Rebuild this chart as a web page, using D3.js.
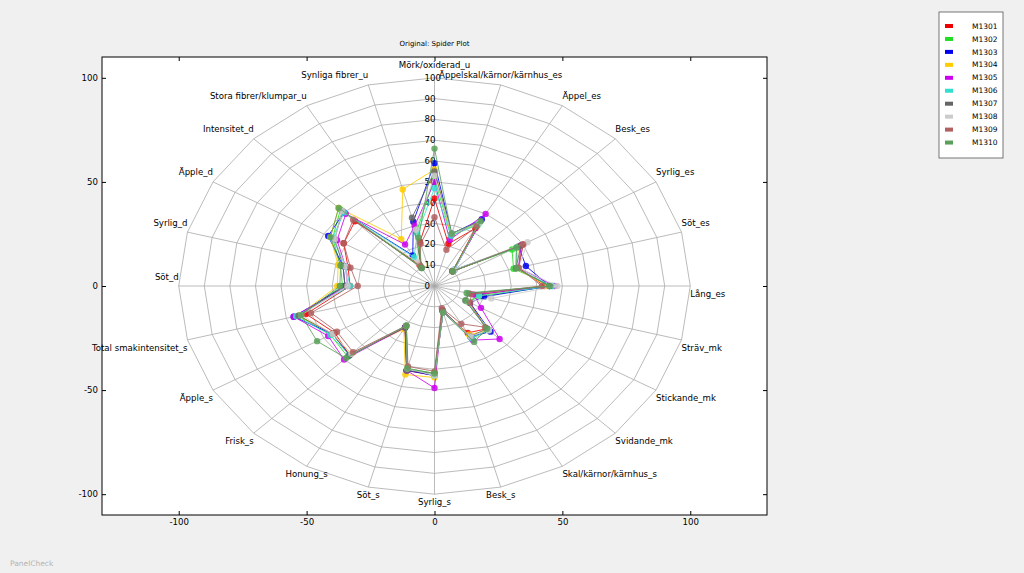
<!DOCTYPE html>
<html>
<head>
<meta charset="utf-8">
<script src="https://cdn.jsdelivr.net/npm/d3@7"></script>
<style>
  body { margin: 0; background: #f0f0f0; }
  text { font-family: "DejaVu Sans", sans-serif; }
</style>
</head>
<body>
<div id="chart"></div>
<script>
// attributes, clockwise from the top
const attributes = [
    'Mörk/oxiderad_u', 'Äppelskal/kärnor/kärnhus_es', 'Äppel_es', 'Besk_es', 'Syrlig_es', 'Söt_es',
    'Lång_es', 'Sträv_mk', 'Stickande_mk', 'Svidande_mk', 'Skal/kärnor/kärnhus_s', 'Besk_s',
    'Syrlig_s', 'Söt_s', 'Honung_s', 'Frisk_s', 'Äpple_s', 'Total smakintensitet_s',
    'Söt_d', 'Syrlig_d', 'Äpple_d', 'Intensitet_d', 'Stora fibrer/klumpar_u', 'Synliga fibrer_u'
];

const products = ['M1301', 'M1302', 'M1303', 'M1304', 'M1305', 'M1306', 'M1307', 'M1308', 'M1309', 'M1310'];
const colors = ['#ee0000', '#22dd22', '#0000ee', '#ffcc00', '#cc00ee', '#33e0d0', '#666666', '#cccccc', '#b06060', '#5aa05a'];

const m1301 = [42, 21, 32, 10, 40, 34, 43, 17, 16, 29, 26, 13, 43, 42, 23, 47, 45, 52, 33, 35, 41, 44, 12, 22];
const m1302 = [52, 25, 35, 10, 35, 32, 46, 19, 15, 30, 29, 12, 42, 41, 22, 48, 47, 55, 36, 38, 46, 52, 11, 27];
const m1303 = [59, 26, 37, 11, 38, 37, 45, 20, 16, 31, 28, 13, 43, 42, 23, 47, 46, 57, 35, 37, 48, 50, 17, 32];
const m1304 = [56, 25, 34, 10, 38, 33, 44, 18, 15, 30, 27, 12, 44, 44, 24, 46, 46, 55, 38, 39, 47, 53, 26, 48];
const m1305 = [50, 23, 40, 10, 39, 34, 47, 16, 21, 36, 30, 12, 49, 42, 23, 50, 48, 57, 34, 36, 44, 49, 23, 30];
const m1306 = [47, 25, 34, 11, 37, 33, 46, 18, 15, 30, 29, 13, 43, 41, 22, 47, 47, 56, 33, 36, 46, 50, 16, 26];
const m1307 = [55, 26, 36, 10, 39, 33, 45, 14, 14, 29, 28, 12, 42, 42, 23, 47, 46, 55, 35, 37, 45, 51, 10, 34];
const m1308 = [53, 26, 35, 11, 42, 34, 48, 23, 15, 30, 28, 13, 43, 41, 22, 46, 46, 54, 34, 36, 45, 51, 13, 28];
const m1309 = [33, 18, 33, 10, 40, 34, 42, 15, 16, 28, 21, 11, 41, 40, 22, 45, 44, 50, 30, 34, 41, 45, 11, 21];
const m1310 = [66, 26, 36, 10, 37, 33, 45, 13, 14, 29, 31, 13, 42, 41, 22, 49, 53, 54, 37, 38, 47, 53, 10, 24];
const series = [m1301, m1302, m1303, m1304, m1305, m1306, m1307, m1308, m1309, m1310];

const rings = [10, 20, 30, 40, 50, 60, 70, 80, 90, 100];
const ringLabels = [0, 10, 20, 30, 40, 50, 60, 70, 80, 90, 100];
const axisTicks = [-100, -50, 0, 50, 100];

const W = 1024, H = 573;
const box = {left: 102, right: 767, top: 57, bottom: 515};

const svg = d3.select("#chart").append("svg")
    .attr("width", W)
    .attr("height", H);

const xScale = d3.scaleLinear().domain([-130, 130]).range([box.left, box.right]);
const yScale = d3.scaleLinear().domain([-110, 110]).range([box.bottom, box.top]);

// angle of attribute i, degrees, 90 at the top and going clockwise
const angle = (i) => 90 - i * 360 / attributes.length;
const px = (r, i) => xScale(r * Math.cos(angle(i) * Math.PI / 180));
const py = (r, i) => yScale(r * Math.sin(angle(i) * Math.PI / 180));

// plot area
svg.append("rect")
    .attr("x", box.left).attr("y", box.top)
    .attr("width", box.right - box.left).attr("height", box.bottom - box.top)
    .attr("fill", "white");

// grid: rings and spokes
const grid = svg.append("g").attr("stroke", "#aaaaaa").attr("stroke-width", 0.8).attr("fill", "none");
grid.selectAll("polygon")
    .data(rings)
    .enter().append("polygon")
    .attr("points", (r) => attributes.map((a, i) => px(r, i) + "," + py(r, i)).join(" "));
grid.selectAll("line")
    .data(attributes)
    .enter().append("line")
    .attr("x1", xScale(0)).attr("y1", yScale(0))
    .attr("x2", (d, i) => px(100, i)).attr("y2", (d, i) => py(100, i));

// ring labels along the top spoke
svg.append("g").selectAll("text")
    .data(ringLabels)
    .enter().append("text")
    .attr("x", xScale(0) - 10)
    .attr("y", (d) => yScale(d))
    .attr("dy", "0.35em")
    .attr("font-size", 8.6)
    .text((d) => d);

// attribute labels
svg.append("g").selectAll("text")
    .data(attributes)
    .enter().append("text")
    .attr("font-size", 8.6)
    .attr("x", (d, i) => px(100, i))
    .attr("y", (d, i) => {
        const a = angle(i);
        const s = Math.sin(a * Math.PI / 180);
        const top = (a === 0) || (s < -1e-6);
        if (top) return py(100, i) + 11;
        return i === 0 ? py(100, i) - 10 : py(100, i) - 6.5;
    })
    .attr("text-anchor", (d, i) => {
        const a = angle(i);
        if (a >= -60 && a <= 60) return "start";
        if (a > 120 || a < -120) return "end";
        return "middle";
    })
    .text((d) => d);

// products
const lineGen = d3.line().x((d) => d[0]).y((d) => d[1]).curve(d3.curveLinearClosed);
const prod = svg.append("g").selectAll("g")
    .data(series)
    .enter().append("g");
prod.append("path")
    .attr("d", (vals) => lineGen(vals.map((v, i) => [px(v, i), py(v, i)])))
    .attr("fill", "none")
    .attr("stroke", (d, k) => colors[k])
    .attr("stroke-width", 1)
    .attr("stroke-opacity", 0.85);
prod.selectAll("circle")
    .data((vals) => vals)
    .enter().append("circle")
    .attr("cx", (v, i) => px(v, i))
    .attr("cy", (v, i) => py(v, i))
    .attr("r", 3.2)
    .attr("fill", function() { return colors[series.indexOf(d3.select(this.parentNode).datum())]; })
    .attr("fill-opacity", 0.85);

// axes with inward ticks
const fmt = (d) => d < 0 ? "-" + Math.abs(d) : d;
svg.append("g")
    .attr("transform", "translate(0," + box.bottom + ")")
    .call(d3.axisBottom(xScale).tickValues(axisTicks).tickSize(-4).tickSizeOuter(0).tickPadding(4).tickFormat(fmt));
svg.append("g")
    .attr("transform", "translate(0," + box.top + ")")
    .call(d3.axisTop(xScale).tickValues(axisTicks).tickSize(-4).tickSizeOuter(0).tickFormat(""));
svg.append("g")
    .attr("transform", "translate(" + box.left + ",0)")
    .call(d3.axisLeft(yScale).tickValues(axisTicks).tickSize(-4).tickSizeOuter(0).tickPadding(4).tickFormat(fmt));
svg.append("g")
    .attr("transform", "translate(" + box.right + ",0)")
    .call(d3.axisRight(yScale).tickValues(axisTicks).tickSize(-4).tickSizeOuter(0).tickFormat(""));
svg.selectAll(".tick text").attr("font-size", 8.6).attr("fill", "black").attr("font-family", "DejaVu Sans");
svg.selectAll(".domain").remove();

svg.append("rect")
    .attr("x", box.left).attr("y", box.top)
    .attr("width", box.right - box.left).attr("height", box.bottom - box.top)
    .attr("fill", "none").attr("stroke", "black").attr("stroke-width", 1);

// title
svg.append("text")
    .attr("x", xScale(0)).attr("y", 46)
    .attr("text-anchor", "middle")
    .attr("font-size", 7)
    .text("Original: Spider Plot");

// legend
const legend = svg.append("g").attr("transform", "translate(939,12)");
legend.append("rect")
    .attr("width", 64).attr("height", 146)
    .attr("fill", "white").attr("stroke", "#555").attr("stroke-width", 0.8);
const items = legend.selectAll(".legend")
    .data(products)
    .enter().append("g")
    .attr("class", "legend")
    .attr("transform", (d, i) => "translate(0," + (14 + i * 12.95) + ")");
items.append("rect")
    .attr("x", 6).attr("y", -2).attr("width", 8).attr("height", 4)
    .attr("fill", (d, i) => colors[i]);
items.append("text")
    .attr("x", 33).attr("dy", "0.35em")
    .attr("font-size", 7.5)
    .text((d) => d);

svg.append("text")
    .attr("x", 10).attr("y", 566)
    .attr("font-size", 7.5)
    .attr("fill", "#b4b4b4")
    .text("PanelCheck");
</script>
</body>
</html>
